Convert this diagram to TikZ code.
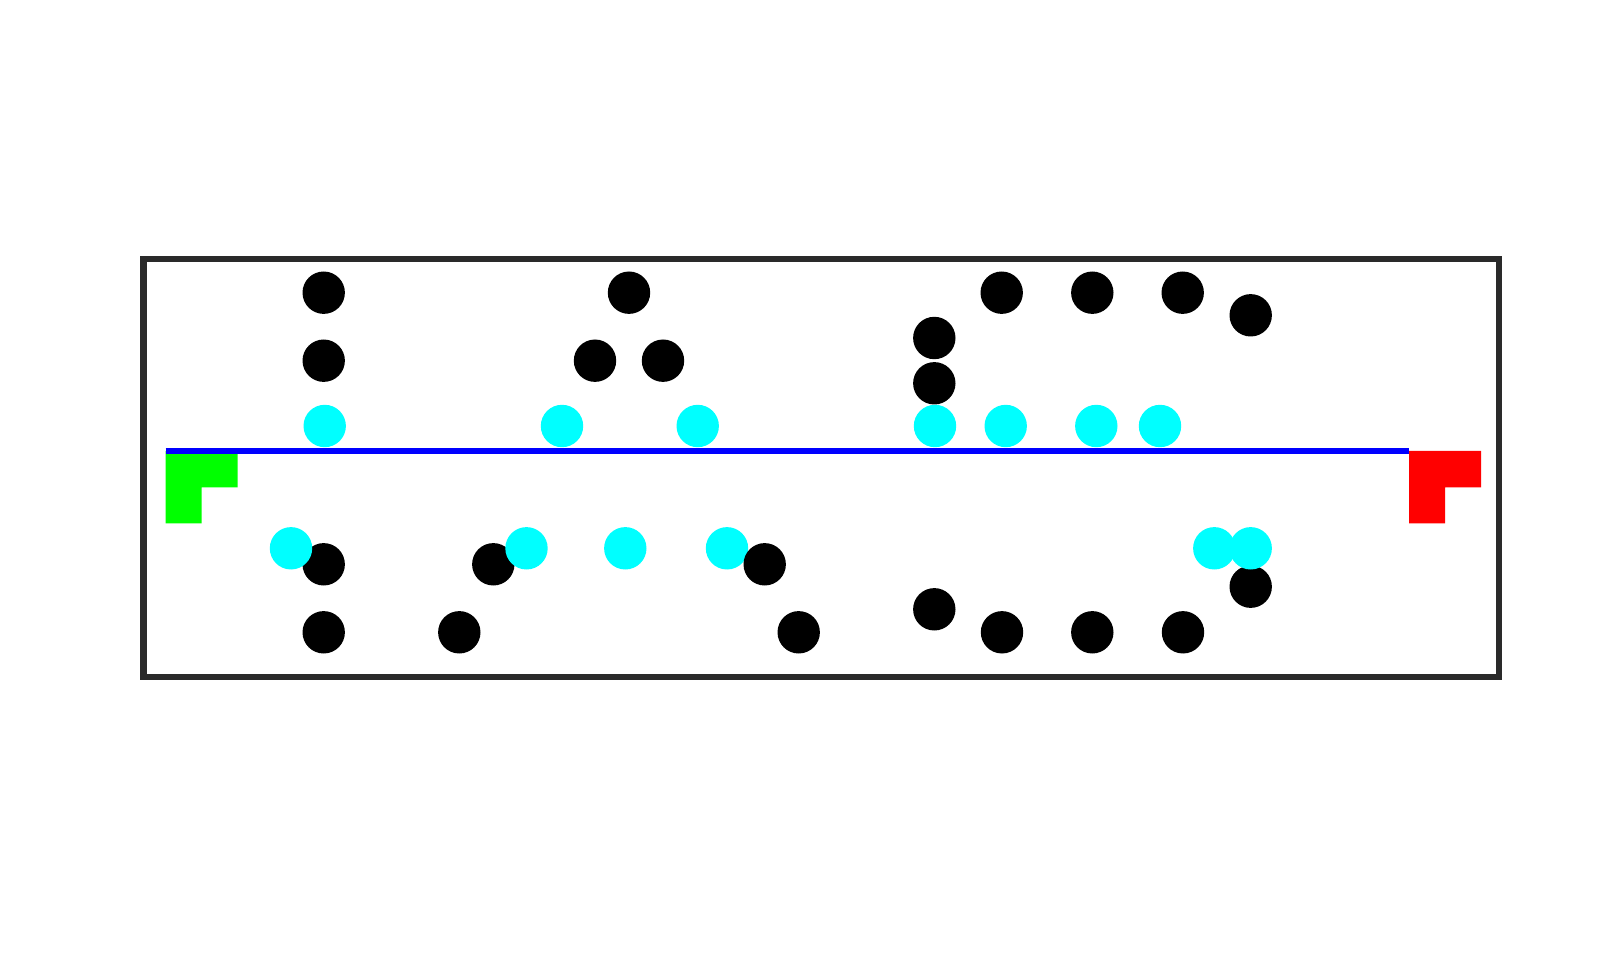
\documentclass[tikz,border=0pt]{standalone}
\definecolor{aqua}{RGB}{0,255,255}
\definecolor{puregreen}{RGB}{0,255,0}
\definecolor{purered}{RGB}{255,0,0}
\definecolor{pureblue}{RGB}{0,0,255}
\definecolor{framegray}{RGB}{42,42,42}
\begin{document}
\begin{tikzpicture}[x=0.5pt,y=-0.5pt,
  frame/.style={draw=framegray, line width=3.25pt},
  track/.style={draw=pureblue, line width=3pt},
  ball/.style={fill=black},
  cball/.style={fill=aqua},
  startmark/.style={fill=puregreen},
  endmark/.style={fill=purered}]
\useasboundingbox (0,0) rectangle (1603,968);
\fill[white] (0,0) rectangle (1603,968);
\draw[frame] (143.3,259) rectangle (1499,677);
% start and end L markers
\fill[startmark] (165.7,451) -- (237.7,451) -- (237.7,487.3) -- (201.7,487.3) -- (201.7,523.3) -- (165.7,523.3) -- cycle;
\fill[endmark] (1409,451) -- (1481,451) -- (1481,487.3) -- (1445,487.3) -- (1445,523.3) -- (1409,523.3) -- cycle;
\draw[track] (165.7,451) -- (1409,451);
% black balls
\foreach \p in {(323.7,292.7),(323.7,360.7),(323.7,564.3),(323.7,632.3),
  (493.3,564.3),(459.3,632.3),
  (629,292.7),(595,360.7),(663,360.7),
  (798.7,632.3),
  (1001.7,292.7),(1092.3,292.7),(1182.7,292.7),(1250.7,315.3),
  (934.3,338),(934.3,383.3),
  (934.3,609.3),(1002,632.3),(1092.3,632.3),(1183,632.3),(1250.7,586.7)}
  \fill[ball] \p circle[radius=10.6pt];
% cyan balls
\foreach \p in {(324.7,426),(562,426),(697.7,426),(935,426),(1005.7,426),(1096.3,426),(1160,426),
  (291,548.3),(526.5,548.3),(625.3,548.3),(727,548.3),(1214.3,548.3),(1250.7,548.3)}
  \fill[cball] \p circle[radius=10.6pt];
% ball drawn over cyan
\fill[ball] (764.7,564.3) circle[radius=10.6pt];
\end{tikzpicture}
\end{document}
